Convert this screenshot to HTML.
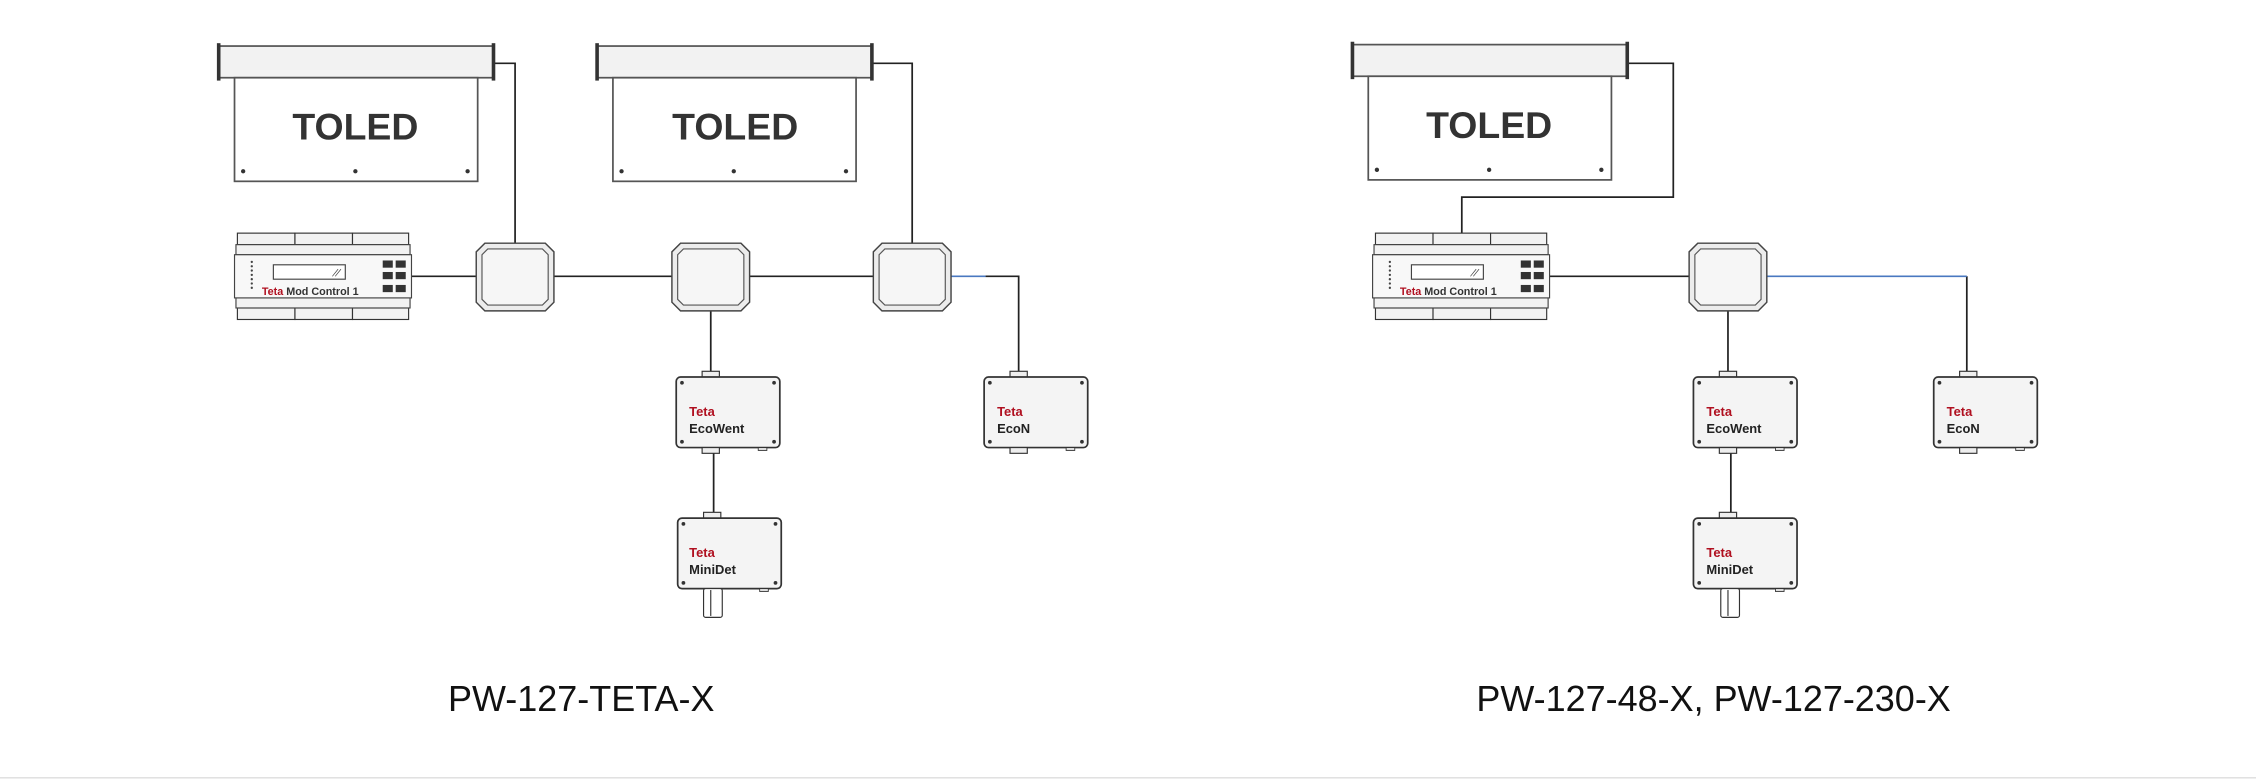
<!DOCTYPE html>
<html><head><meta charset="utf-8"><style>
html,body{margin:0;padding:0;background:#fff;}
svg{display:block;}
text{font-family:"Liberation Sans","DejaVu Sans",sans-serif;}
</style></head><body>
<svg width="2256" height="780" viewBox="0 0 1568 542" preserveAspectRatio="none" xmlns="http://www.w3.org/2000/svg">
<defs>
<g id="cpl">
<polygon points="6,0 48,0 54,6 54,41 48,47 6,47 0,41 0,6" fill="#ececec" stroke="#444" stroke-width="1"/>
<polygon points="8,4 46,4 50,8 50,39 46,43 8,43 4,39 4,8" fill="#f6f6f6" stroke="#555" stroke-width="0.8"/>
</g>
<g id="box">
<rect x="18" y="-4" width="12" height="4" fill="#eee" stroke="#333" stroke-width="0.8"/>
<rect x="0" y="0" width="72" height="49" rx="3" fill="#f4f4f4" stroke="#333" stroke-width="1.2"/>
<circle cx="4" cy="4" r="1.3" fill="#333"/><circle cx="68" cy="4" r="1.3" fill="#333"/>
<circle cx="4" cy="45" r="1.3" fill="#333"/><circle cx="68" cy="45" r="1.3" fill="#333"/>
<rect x="57" y="49" width="6" height="2" fill="#ddd" stroke="#333" stroke-width="0.6"/>
</g>
<g id="toled">
<rect x="0" y="0" width="191" height="22" fill="#f2f2f2" stroke="#555" stroke-width="1.2"/>
<line x1="0" y1="-2" x2="0" y2="24" stroke="#333" stroke-width="2.5"/>
<line x1="191" y1="-2" x2="191" y2="24" stroke="#333" stroke-width="2.5"/>
<rect x="11" y="22" width="169" height="72" fill="#fff" stroke="#555" stroke-width="1.2"/>
<circle cx="17" cy="87" r="1.5" fill="#333"/><circle cx="95" cy="87" r="1.5" fill="#333"/><circle cx="173" cy="87" r="1.5" fill="#333"/>
</g>
<g id="ctrl">
<rect x="1" y="0" width="40" height="8" fill="#f2f2f2" stroke="#333" stroke-width="0.8"/>
<rect x="41" y="0" width="40" height="8" fill="#f2f2f2" stroke="#333" stroke-width="0.8"/>
<rect x="81" y="0" width="39" height="8" fill="#f2f2f2" stroke="#333" stroke-width="0.8"/>
<rect x="1" y="52" width="40" height="8" fill="#f2f2f2" stroke="#333" stroke-width="0.8"/>
<rect x="41" y="52" width="40" height="8" fill="#f2f2f2" stroke="#333" stroke-width="0.8"/>
<rect x="81" y="52" width="39" height="8" fill="#f2f2f2" stroke="#333" stroke-width="0.8"/>
<rect x="0" y="8" width="121" height="7" fill="#f2f2f2" stroke="#444" stroke-width="0.8"/>
<rect x="0" y="45" width="121" height="7" fill="#f2f2f2" stroke="#444" stroke-width="0.8"/>
<rect x="-1" y="15" width="123" height="30" fill="#f8f8f8" stroke="#444" stroke-width="0.8"/>
<rect x="26" y="22" width="50" height="10" fill="#fff" stroke="#444" stroke-width="0.8"/>
<line x1="67" y1="30" x2="71" y2="25" stroke="#444" stroke-width="0.5"/><line x1="69" y1="30" x2="73" y2="25" stroke="#444" stroke-width="0.5"/>
<g fill="#333"><rect x="102" y="19" width="7" height="5"/><rect x="111" y="19" width="7" height="5"/>
<rect x="102" y="27" width="7" height="5"/><rect x="111" y="27" width="7" height="5"/>
<rect x="102" y="36" width="7" height="5"/><rect x="111" y="36" width="7" height="5"/></g>
<g fill="#444"><circle cx="11" cy="20" r="0.8"/><circle cx="11" cy="23" r="0.8"/><circle cx="11" cy="26" r="0.8"/><circle cx="11" cy="29" r="0.8"/><circle cx="11" cy="32" r="0.8"/><circle cx="11" cy="35" r="0.8"/><circle cx="11" cy="38" r="0.8"/></g>
</g>
</defs>

<g stroke="#222" stroke-width="1.2" fill="none">
<polyline points="343,44 358,44 358,170"/>
<polyline points="607,44 634,44 634,169"/>
<line x1="285" y1="192" x2="331" y2="192"/>
<line x1="385" y1="192" x2="467" y2="192"/>
<line x1="521" y1="192" x2="607" y2="192"/>
<polyline points="685,192 708,192 708,262"/>
<line x1="494" y1="216" x2="494" y2="262"/>
<line x1="496" y1="311" x2="496" y2="360"/>
</g>
<line x1="661" y1="192" x2="685" y2="192" stroke="#4a78c0" stroke-width="1.2"/>

<use href="#toled" x="152" y="32"/>
<use href="#toled" x="415" y="32"/>
<text x="247" y="97" font-size="26" font-weight="bold" fill="#333" text-anchor="middle">TOLED</text>
<text x="511" y="97" font-size="26" font-weight="bold" fill="#333" text-anchor="middle">TOLED</text>

<use href="#ctrl" x="164" y="162"/>
<text x="182" y="205" font-size="7.5" font-weight="bold" fill="#333"><tspan fill="#b01020">Teta</tspan> Mod Control 1</text>

<use href="#cpl" x="331" y="169"/>
<use href="#cpl" x="467" y="169"/>
<use href="#cpl" x="607" y="169"/>

<use href="#box" x="470" y="262"/>
<rect x="488" y="311" width="12" height="4" fill="#eee" stroke="#333" stroke-width="0.8"/>
<text x="479" y="289" font-size="9" font-weight="bold" fill="#b01020">Teta</text>
<text x="479" y="301" font-size="9" font-weight="bold" fill="#222">EcoWent</text>

<use href="#box" x="471" y="360"/>
<rect x="489" y="409" width="13" height="20" rx="1.5" fill="#fff" stroke="#333" stroke-width="0.8"/>
<line x1="494" y1="410" x2="494" y2="428" stroke="#333" stroke-width="0.8"/>
<text x="479" y="387" font-size="9" font-weight="bold" fill="#b01020">Teta</text>
<text x="479" y="399" font-size="9" font-weight="bold" fill="#222">MiniDet</text>

<use href="#box" x="684" y="262"/>
<rect x="702" y="311" width="12" height="4" fill="#eee" stroke="#333" stroke-width="0.8"/>
<text x="693" y="289" font-size="9" font-weight="bold" fill="#b01020">Teta</text>
<text x="693" y="301" font-size="9" font-weight="bold" fill="#222">EcoN</text>

<text x="404" y="494" font-size="25" fill="#111" text-anchor="middle">PW-127-TETA-X</text>

<g stroke="#222" stroke-width="1.2" fill="none">
<polyline points="1131,44 1163,44 1163,137 1016,137 1016,162"/>
<line x1="1077" y1="192" x2="1174" y2="192"/>
<line x1="1201" y1="216" x2="1201" y2="262"/>
<line x1="1203" y1="311" x2="1203" y2="360"/>
<polyline points="1367,192 1367,262"/>
</g>
<line x1="1228" y1="192" x2="1367" y2="192" stroke="#4a78c0" stroke-width="1.2"/>

<use href="#toled" x="940" y="31"/>
<text x="1035" y="96" font-size="26" font-weight="bold" fill="#333" text-anchor="middle">TOLED</text>

<use href="#ctrl" x="955" y="162"/>
<text x="973" y="205" font-size="7.5" font-weight="bold" fill="#333"><tspan fill="#b01020">Teta</tspan> Mod Control 1</text>

<use href="#cpl" x="1174" y="169"/>

<use href="#box" x="1177" y="262"/>
<rect x="1195" y="311" width="12" height="4" fill="#eee" stroke="#333" stroke-width="0.8"/>
<text x="1186" y="289" font-size="9" font-weight="bold" fill="#b01020">Teta</text>
<text x="1186" y="301" font-size="9" font-weight="bold" fill="#222">EcoWent</text>

<use href="#box" x="1177" y="360"/>
<rect x="1196" y="409" width="13" height="20" rx="1.5" fill="#fff" stroke="#333" stroke-width="0.8"/>
<line x1="1201" y1="410" x2="1201" y2="428" stroke="#333" stroke-width="0.8"/>
<text x="1186" y="387" font-size="9" font-weight="bold" fill="#b01020">Teta</text>
<text x="1186" y="399" font-size="9" font-weight="bold" fill="#222">MiniDet</text>

<use href="#box" x="1344" y="262"/>
<rect x="1362" y="311" width="12" height="4" fill="#eee" stroke="#333" stroke-width="0.8"/>
<text x="1353" y="289" font-size="9" font-weight="bold" fill="#b01020">Teta</text>
<text x="1353" y="301" font-size="9" font-weight="bold" fill="#222">EcoN</text>

<text x="1191" y="494" font-size="25" fill="#111" text-anchor="middle">PW-127-48-X, PW-127-230-X</text>

<line x1="0" y1="540.5" x2="1568" y2="540.5" stroke="#ddd" stroke-width="1"/>
</svg>
</body></html>
